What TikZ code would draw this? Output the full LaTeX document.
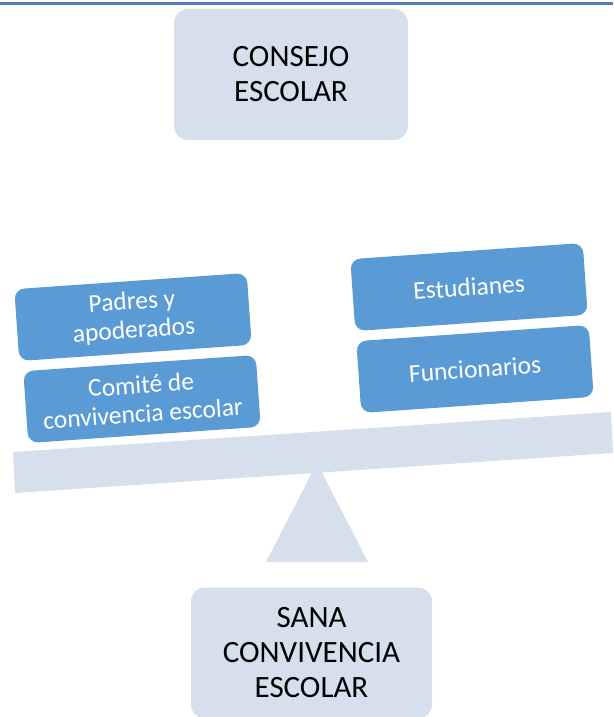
\documentclass[tikz,border=0pt]{standalone}
\usepackage{fontspec}
\setmainfont{Carlito}
\definecolor{lightbox}{RGB}{214,224,236}
\definecolor{bluebox}{RGB}{91,155,213}
\definecolor{topline}{RGB}{79,129,189}

\begin{document}
\begin{tikzpicture}[x=1pt,y=-1pt]
\tikzstyle{every node}+=[inner sep=0pt]
\tikzstyle{big}=[fill=lightbox, rounded corners=14pt, align=center, font=\fontsize{31}{35}\selectfont]
\tikzstyle{side}=[fill=bluebox, rounded corners=10pt, text=white, align=center, minimum width=233pt, minimum height=72pt, rotate=4, font=\fontsize{25.5}{29}\selectfont]
\useasboundingbox (0,0) rectangle (613,717);
\draw [topline, line width=3pt] (0,4) -- (613,4);
\node (consejo) [big, minimum width=234pt, minimum height=131pt] at (291,74.5) {CONSEJO\\ESCOLAR};
\fill [lightbox] (317,463) -- (368,562) -- (266,562) -- cycle;
\fill [lightbox] (13,452) -- (611,412) -- (613,453) -- (15,493) -- cycle;
\node (padres) [side] at (133,317) {Padres y\\apoderados};
\node (comite) [side] at (142,399) {Comité de\\convivencia escolar};
\node (estudianes) [side] at (469,287) {Estudianes};
\node (funcionarios) [side] at (475,369) {Funcionarios};
\node (sana) [big, minimum width=241pt, minimum height=131pt] at (311.5,653) {SANA\\CONVIVENCIA\\ESCOLAR};
\end{tikzpicture}
\end{document}
